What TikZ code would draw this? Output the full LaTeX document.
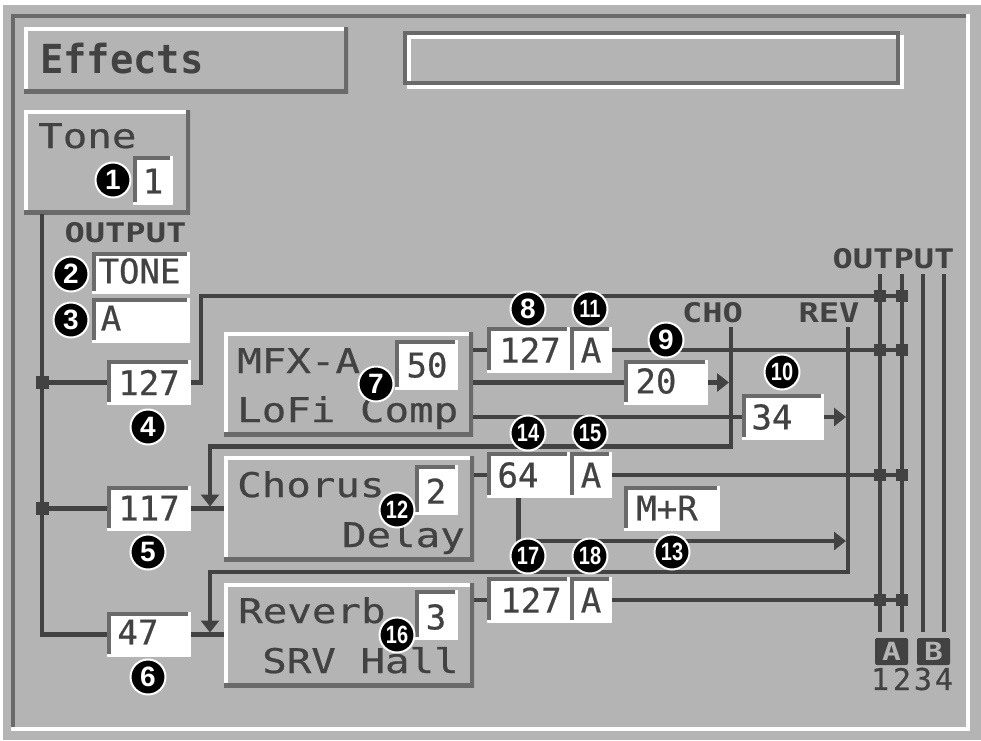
\documentclass[tikz,border=0pt]{standalone}
\usepackage{fontspec}
\usetikzlibrary{arrows.meta}
\newfontfamily\lcd{DejaVu Sans Mono}[FakeBold=0.6]
\newfontfamily\lcdw{DejaVu Sans Mono}[FakeStretch=1.2,FakeBold=0.6]
\newfontfamily\lcdb{DejaVu Sans Mono}[FakeStretch=1.25]
\newfontfamily\numf{Liberation Sans}
\newfontfamily\numc{Liberation Sans}[FakeStretch=0.8]
\definecolor{bg}{RGB}{180,180,180}
\definecolor{wcol}{RGB}{66,66,66}
\definecolor{bev}{RGB}{106,106,106}
\definecolor{txt}{RGB}{66,66,66}
\begin{document}
\begin{tikzpicture}[x=1pt,y=-1pt,
 wireln/.style={draw=wcol, line width=4.5pt},
 arr/.style={-{Triangle[length=12pt,width=18pt]}, shorten >=2pt},
 raised/.style={rectangle, fill=bg, inner sep=0pt, outer sep=0pt, path picture={
   \draw[white,line width=8pt] (path picture bounding box.south west) |- (path picture bounding box.north east);
   \draw[bev,line width=8pt] (path picture bounding box.south west) -| (path picture bounding box.north east);}},
 valbox/.style={rectangle, fill=white, inner sep=0pt, outer sep=0pt, path picture={
   \draw[bev,line width=8pt] ([yshift=3pt]path picture bounding box.south west) |- ([xshift=-3pt]path picture bounding box.north east);}},
 vtxt/.style={inner sep=0pt, text=txt, font=\lcd\fontsize{34}{34}\selectfont},
 wtxt/.style={inner sep=0pt, text=txt, font=\lcdw\fontsize{34}{34}\selectfont},
 btxt/.style={inner sep=0pt, text=txt, font=\lcdb\bfseries\fontsize{27}{27}\selectfont},
 badge/.style={circle, fill=black, draw=white, line width=2pt, minimum size=35pt, inner sep=0pt, text=white, font=\numf\bfseries\fontsize{28}{28}\selectfont},
 badgew/.style={badge, font=\numc\bfseries\fontsize{25}{25}\selectfont},
 jn/.style={rectangle, fill=wcol, minimum size=12pt, inner sep=0pt},
 abbox/.style={rectangle, fill=wcol, rounded corners=2pt, minimum width=33pt, minimum height=27pt, inner sep=0pt, text=bg, font=\lcdb\bfseries\fontsize{25}{25}\selectfont},
 digit/.style={inner sep=0pt, text=txt, font=\lcd\fontsize{30}{30}\selectfont},
]
\useasboundingbox (0,0) rectangle (981,740);
\fill[white] (0,0) rectangle (981,740);
\fill[bg] (3,5) rectangle (981,740);
% panel bevel
\draw[bev,line width=4pt] (13,729) -- (13,16) -- (967,16);
\draw[white,line width=4pt] (11,729) -- (968,729) -- (968,14);
% groove display
\draw[white,line width=4pt] (409,37) rectangle (902,87);
\draw[bev,line width=4pt] (405,33) rectangle (898,83);

% raised boxes
\node[raised, minimum width=324pt, minimum height=66pt] (effects) at (186,60) {};
\node[raised, minimum width=166pt, minimum height=104pt] (tone) at (107,162) {};
\node[raised, minimum width=249pt, minimum height=104pt] (mfx) at (348.5,384) {};
\node[raised, minimum width=250pt, minimum height=105pt] (chorus) at (349,508.5) {};
\node[raised, minimum width=250pt, minimum height=104pt] (reverb) at (349,635) {};

% value boxes
\node[valbox, minimum width=40pt, minimum height=49pt] (v1) at (153,180.5) {};
\node[valbox, minimum width=98pt, minimum height=42pt] (v2) at (141,273) {};
\node[valbox, minimum width=98pt, minimum height=45pt] (v3) at (141,320.5) {};
\node[valbox, minimum width=84pt, minimum height=45pt] (v4) at (149,382.5) {};
\node[valbox, minimum width=84pt, minimum height=45pt] (v5) at (149,508.5) {};
\node[valbox, minimum width=84pt, minimum height=45pt] (v6) at (149,634.5) {};
\node[valbox, minimum width=63pt, minimum height=50pt] (v7) at (426.5,365) {};
\node[valbox, minimum width=83pt, minimum height=46pt] (v8) at (528.5,350) {};
\node[valbox, minimum width=42pt, minimum height=46pt] (v11) at (591,350) {};
\node[valbox, minimum width=84pt, minimum height=45pt] (v9) at (666,382.5) {};
\node[valbox, minimum width=82pt, minimum height=46pt] (v10) at (783,417) {};
\node[valbox, minimum width=43pt, minimum height=50pt] (v12) at (436.5,490) {};
\node[valbox, minimum width=83pt, minimum height=46pt] (v14) at (528.5,475) {};
\node[valbox, minimum width=42pt, minimum height=46pt] (v15) at (591,475) {};
\node[valbox, minimum width=96pt, minimum height=45pt] (v13) at (672,508.5) {};
\node[valbox, minimum width=43pt, minimum height=50pt] (v16) at (436.5,615) {};
\node[valbox, minimum width=83pt, minimum height=46pt] (v17) at (528.5,600) {};
\node[valbox, minimum width=42pt, minimum height=46pt] (v18) at (591,600) {};

% coordinates
\coordinate (bus) at (42,214);
\coordinate (ob1) at (880,274); \coordinate (ob2) at (902,274);
\coordinate (ob3) at (923,274); \coordinate (ob4) at (944,274);
\coordinate (ob1e) at (880,632); \coordinate (ob2e) at (902,632);
\coordinate (ob3e) at (923,632); \coordinate (ob4e) at (944,632);
\coordinate (toprow) at (902,296);
\coordinate (cho) at (731,327);
\coordinate (rev) at (848,327);
\coordinate (choc) at (210,446.5);
\coordinate (revc) at (210,572);
\coordinate (mr) at (848,541);

% wires
\draw[wireln] (bus) |- (v6.west);
\draw[wireln] (v4.west -| bus) -- (v4.west);
\draw[wireln] (v5.west -| bus) -- (v5.west);
\draw[wireln] (v4.east) -- ++(10,0) |- (toprow);
\draw[wireln] (v8.west -| mfx.east) -- (v8.west);
\draw[wireln] (v11.east) -- (v11.east -| ob2);
\draw[wireln] (v9.west -| mfx.east) -- (v9.west);
\draw[wireln, arr] (v9.east) -- (v9.east -| cho);
\draw[wireln] (v10.west -| mfx.east) -- (v10.west);
\draw[wireln, arr] (v10.east) -- (v10.east -| rev);
\draw[wireln, arr] (cho) |- (choc) -- (choc |- v5.east);
\draw[wireln] (v5.east) -- (v5.east -| chorus.west);
\draw[wireln, arr] (rev) |- (revc) -- (revc |- v6.east);
\draw[wireln] (v6.east) -- (v6.east -| reverb.west);
\draw[wireln] (v14.west -| chorus.east) -- (v14.west);
\draw[wireln] (v15.east) -- (v15.east -| ob2);
\draw[wireln, arr] ([xshift=-10pt]v14.south) |- (mr);
\draw[wireln] (v17.west -| reverb.east) -- (v17.west);
\draw[wireln] (v18.east) -- (v18.east -| ob2);
\draw[wireln] (ob1) -- (ob1e);
\draw[wireln] (ob2) -- (ob2e);
\draw[wireln] (ob3) -- (ob3e);
\draw[wireln] (ob4) -- (ob4e);

% junctions
\node[jn, minimum size=13pt] (jl1) at (42,382.5) {};
\node[jn, minimum size=13pt] (jl2) at (42,508.5) {};
\node[jn] (j1a) at (880,296) {}; \node[jn] (j1b) at (902,296) {};
\node[jn] (j2a) at (880,350) {}; \node[jn] (j2b) at (902,350) {};
\node[jn] (j3a) at (880,475) {}; \node[jn] (j3b) at (902,475) {};
\node[jn] (j4a) at (880,600) {}; \node[jn] (j4b) at (902,600) {};

% texts
\node[inner sep=0pt, text=txt, font=\lcdb\bfseries\fontsize{40}{40}\selectfont, anchor=base west] (tEff) at (40,73) {\addfontfeatures{FakeStretch=0.97}Effects};
\node[wtxt, anchor=base west] (tTone) at (38,148) {Tone};
\node[wtxt, anchor=base west] (tMfx) at (237,373) {MFX-A};
\node[wtxt, anchor=base west] (tLofi) at (237,422) {LoFi Comp};
\node[wtxt, anchor=base west] (tCho) at (237,497) {Chorus};
\node[wtxt, anchor=base east] (tDel) at (465,547) {Delay};
\node[wtxt, anchor=base west] (tRevb) at (238,623) {Reverb};
\node[wtxt, anchor=base west] (tSrv) at (262,673) {SRV Hall};
\node[btxt, anchor=base] (tOutL) at (125.5,242) {OUTPUT};
\node[btxt, anchor=base] (tOutR) at (893.5,268) {OUTPUT};
\node[btxt, anchor=base] (tChoL) at (712.5,322) {CHO};
\node[btxt, anchor=base] (tRevL) at (829,322) {REV};

\node[vtxt] (x1) at (153,181) {1};
\node[vtxt] (x2) at (139.5,271) {TONE};
\node[vtxt] (x3) at (111,318) {A};
\node[vtxt] (x4) at (149,382.5) {127};
\node[vtxt] (x5) at (149,508) {117};
\node[vtxt] (x6) at (138,632) {47};
\node[vtxt] (x7) at (427,365) {50};
\node[vtxt] (x8) at (530,350) {127};
\node[vtxt] (x11) at (591,350) {A};
\node[vtxt] (x9) at (656,381) {20};
\node[vtxt] (x10) at (772,417) {34};
\node[vtxt] (x12) at (436,491) {2};
\node[vtxt] (x14) at (518,475) {64};
\node[vtxt] (x15) at (591,475) {A};
\node[vtxt] (x13) at (667,508) {M+R};
\node[vtxt] (x16) at (436,617) {3};
\node[vtxt] (x17) at (531,600) {127};
\node[vtxt] (x18) at (591,600) {A};

% A/B output labels
\node[abbox] (lA) at (891.5,651.5) {A};
\node[abbox] (lB) at (933.5,651.5) {B};
\node[digit] (d1) at (880,679) {1};
\node[digit] (d2) at (902,679) {2};
\node[digit] (d3) at (923,679) {3};
\node[digit] (d4) at (944,679) {4};

% badges
\node[badge] (b1) at (113,180) {1};
\node[badge] (b2) at (71,274) {2};
\node[badge] (b3) at (71,320) {3};
\node[badge] (b4) at (148,427) {4};
\node[badge] (b5) at (148,552) {5};
\node[badge] (b6) at (148,677) {6};
\node[badge] (b7) at (376,384) {7};
\node[badge] (b8) at (528,309) {8};
\node[badge] (b9) at (666,340) {9};
\node[badgew] (b10) at (782,372) {10};
\node[badgew] (b11) at (590,309) {11};
\node[badgew] (b12) at (397,510) {12};
\node[badgew] (b13) at (672,552) {13};
\node[badgew] (b14) at (528,433) {14};
\node[badgew] (b15) at (590,433) {15};
\node[badgew] (b16) at (397,635) {16};
\node[badgew] (b17) at (528,556) {17};
\node[badgew] (b18) at (590,556) {18};
\end{tikzpicture}
\end{document}
